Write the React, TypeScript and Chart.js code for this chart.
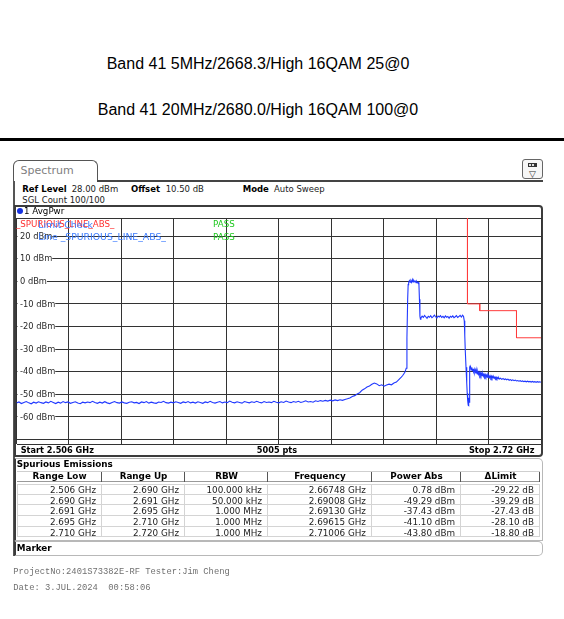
import React, { useEffect, useRef } from "react";
import { Chart, registerables } from "chart.js";
Chart.register(...registerables);

const titleLines = ["Band 41 5MHz/2668.3/High 16QAM 25@0", "Band 41 20MHz/2680.0/High 16QAM 100@0"];

// frequency axis (MHz) and level axis (dBm)
const freqStart = 2506;
const freqStop = 2720;
const refLevel = 28;
const bottomLevel = -72;
const xGridFreqs = [2506, 2527.4, 2548.8, 2570.2, 2591.6, 2613, 2634.4, 2655.8, 2677.2, 2698.6, 2720];
const yGridLevels = [28, 20, 10, 0, -10, -20, -30, -40, -50, -60, -70, -72];
const yTickLabels = ["20 dBm", "10 dBm", "0 dBm", "-10 dBm", "-20 dBm", "-30 dBm", "-40 dBm", "-50 dBm", "-60 dBm"];
const yTickLevels = [20, 10, 0, -10, -20, -30, -40, -50, -60];

// trace 1 AvgPwr: [MHz, dBm]
const tracePoints: [number, number][] = [
  [2506, -53.9], [2507, -53.4], [2508, -54.1], [2509, -53.6], [2510, -53.2], [2511, -53.8], [2512, -54.2], [2513, -53.5],
  [2514, -53.9], [2515, -53.3], [2516, -53.7], [2517, -54.0], [2518, -53.4], [2519, -53.8], [2520, -53.1], [2521, -53.6],
  [2522, -54.1], [2523, -53.5], [2524, -53.9], [2525, -53.2], [2526, -53.7], [2527, -53.4], [2528, -54.0], [2529, -53.6],
  [2530, -53.3], [2531, -53.9], [2532, -54.2], [2533, -53.5], [2534, -53.8], [2535, -53.4], [2536, -53.7], [2537, -53.1],
  [2538, -53.6], [2539, -54.0], [2540, -53.5], [2541, -53.9], [2542, -53.3], [2543, -53.8], [2544, -54.1], [2545, -53.6],
  [2546, -53.2], [2547, -53.7], [2548, -53.9], [2549, -53.4], [2550, -53.8], [2551, -54.0], [2552, -53.5], [2553, -53.3],
  [2554, -53.8], [2555, -53.6], [2556, -54.1], [2557, -53.4], [2558, -53.7], [2559, -53.2], [2560, -53.9], [2561, -53.5],
  [2562, -53.8], [2563, -54.0], [2564, -53.4], [2565, -53.6], [2566, -53.1], [2567, -53.7], [2568, -53.9], [2569, -53.5],
  [2570, -53.8], [2571, -53.3], [2572, -53.6], [2573, -54.0], [2574, -53.4], [2575, -53.7], [2576, -53.2], [2577, -53.8],
  [2578, -53.5], [2579, -53.9], [2580, -53.3], [2581, -53.6], [2582, -54.0], [2583, -53.4], [2584, -53.7], [2585, -53.1],
  [2586, -53.6], [2587, -53.9], [2588, -53.5], [2589, -53.2], [2590, -53.8], [2591, -53.4], [2592, -53.7], [2593, -53.0],
  [2594, -53.5], [2595, -53.8], [2596, -53.3], [2597, -53.6], [2598, -53.9], [2599, -53.2], [2600, -53.5], [2601, -53.8],
  [2602, -53.3], [2603, -53.6], [2604, -53.1], [2605, -53.5], [2606, -53.8], [2607, -53.2], [2608, -53.6], [2609, -53.4],
  [2610, -53.7], [2611, -53.1], [2612, -53.5], [2613, -53.8], [2614, -53.3], [2615, -53.6], [2616, -53.0], [2617, -53.4],
  [2618, -53.7], [2619, -53.2], [2620, -53.5], [2621, -53.1], [2622, -53.6], [2623, -53.3], [2624, -52.9], [2625, -53.4],
  [2626, -53.2], [2627, -53.5], [2628, -52.9], [2629, -53.2], [2630, -52.8], [2631, -53.1], [2632, -52.7], [2633, -53.0],
  [2634, -52.6], [2635, -52.9], [2636, -52.5], [2637, -52.8], [2638, -52.4], [2639, -52.7], [2640, -52.3],
  [2641, -52.0], [2642, -51.6], [2643, -51.0], [2644, -50.6], [2645, -49.9], [2646, -49.3], [2647, -48.2], [2648, -47.6],
  [2649, -46.8], [2650, -46.3], [2651, -45.6], [2652, -45.0], [2653, -45.4], [2654, -46.2], [2655, -45.8], [2656, -46.4],
  [2657, -45.9], [2658, -45.5], [2659, -45.8], [2660, -45.0], [2661, -44.6], [2662, -43.5], [2663, -42.4], [2663.5, -41.8],
  [2664, -41.0], [2664.5, -40.2], [2665, -38.5], [2665.3, -25], [2665.6, -8], [2665.8, -1.5],
  [2666, -0.6], [2666.3, 0.3], [2666.6, -0.4], [2666.9, 0.2], [2667.2, -0.5], [2667.5, 0.78], [2667.8, -0.3], [2668.1, 0.4],
  [2668.4, -0.2], [2668.7, 0.1], [2669.0, -0.6], [2669.3, -0.1], [2669.6, -0.7], [2669.9, -0.4], [2670.2, -1.5], [2670.4, -8],
  [2670.6, -15.5], [2670.8, -16.8],
  [2671, -16.2], [2671.5, -15.4], [2672, -16.0], [2672.5, -15.1], [2673, -15.8], [2673.5, -16.4], [2674, -15.5], [2674.5, -15.9],
  [2675, -15.2], [2675.5, -16.1], [2676, -15.6], [2676.5, -15.0], [2677, -15.7], [2677.5, -16.3], [2678, -15.4], [2678.5, -15.8],
  [2679, -15.2], [2679.5, -16.0], [2680, -15.5], [2680.5, -16.2], [2681, -15.3], [2681.5, -15.9], [2682, -15.6], [2682.5, -16.4],
  [2683, -15.5], [2683.5, -15.9], [2684, -15.3], [2684.5, -16.1], [2685, -15.7], [2685.5, -15.2], [2686, -16.0], [2686.5, -15.6],
  [2687, -15.1], [2687.5, -15.8], [2688, -15.0], [2688.4, -15.6],
  [2688.7, -17.5], [2688.9, -24], [2689.1, -30.5], [2689.4, -38], [2689.7, -45], [2689.9, -49.6], [2690.0, -51.5], [2690.1, -49.5],
  [2690.2, -53], [2690.3, -54.8], [2690.4, -52], [2690.5, -55], [2690.6, -51.5], [2690.7, -53.5], [2690.8, -50.5], [2690.9, -46],
  [2691.0, -38.0], [2691.1, -37.5],
  [2691.25, -37.9], [2691.5, -39.2], [2691.75, -38.1], [2692, -39.6], [2692.25, -38.7], [2692.5, -40.1], [2692.75, -39.0], [2693, -40.4],
  [2693.25, -39.3], [2693.5, -40.6], [2693.75, -39.7], [2694, -41.0], [2694.25, -40.0], [2694.5, -41.2], [2694.75, -40.3], [2695, -41.5],
  [2695.25, -40.5], [2695.5, -41.6], [2695.75, -40.8], [2696, -41.8], [2696.25, -40.9], [2696.5, -42.0], [2696.75, -41.1], [2697, -42.1],
  [2697.25, -41.3], [2697.5, -42.2], [2697.75, -41.5], [2698, -42.4], [2698.25, -41.6], [2698.5, -42.5], [2698.75, -41.8], [2699, -42.6],
  [2699.25, -41.9], [2699.5, -42.7], [2699.75, -42.0], [2700, -42.8], [2700.25, -42.1], [2700.5, -42.8], [2700.75, -42.3], [2701, -42.9],
  [2701.25, -42.4], [2701.5, -43.0], [2701.75, -42.5], [2702, -43.1], [2702.25, -42.6], [2702.5, -43.1], [2702.75, -42.7], [2703, -43.2],
  [2703.5, -42.9], [2704, -43.4], [2704.5, -43.0], [2705, -43.5], [2705.5, -43.2], [2706, -43.6], [2706.5, -43.3], [2707, -43.8],
  [2707.5, -43.5], [2708, -43.9], [2708.5, -43.6], [2709, -44.0], [2709.5, -43.7], [2710, -44.1], [2710.5, -43.9], [2711, -44.2],
  [2711.5, -44.0], [2712, -44.3], [2712.5, -44.1], [2713, -44.4], [2713.5, -44.2], [2714, -44.5], [2714.5, -44.2], [2715, -44.5],
  [2715.5, -44.3], [2716, -44.6], [2716.5, -44.3], [2717, -44.6], [2717.5, -44.4], [2718, -44.7], [2718.5, -44.4], [2719, -44.6],
  [2719.5, -44.5], [2720, -44.7],
];

// _SPURIOUS_LINE_ABS_ limit line
const limitFreq = [2506, 2690, 2690, 2695, 2695, 2710, 2710, 2720];
const limitLevel = [30, 30, -10, -10, -13, -13, -25, -25];

// Spurious emissions table
const tableHeader = ["Range Low", "Range Up", "RBW", "Frequency", "Power Abs", "\u0394Limit"];
const rangeLow = ["2.506 GHz", "2.690 GHz", "2.691 GHz", "2.695 GHz", "2.710 GHz"];
const rangeUp = ["2.690 GHz", "2.691 GHz", "2.695 GHz", "2.710 GHz", "2.720 GHz"];
const rbw = ["100.000 kHz", "50.000 kHz", "1.000 MHz", "1.000 MHz", "1.000 MHz"];
const peakFreq = ["2.66748 GHz", "2.69008 GHz", "2.69130 GHz", "2.69615 GHz", "2.71006 GHz"];
const powerAbs = ["0.78 dBm", "-49.29 dBm", "-37.43 dBm", "-41.10 dBm", "-43.80 dBm"];
const deltaLimit = ["-29.22 dB", "-39.29 dB", "-27.43 dB", "-28.10 dB", "-18.80 dB"];

const RS = '"DejaVu Sans", Verdana, sans-serif';

type TProps = {
  x: number; base: number; fs: number; children: React.ReactNode;
  weight?: number; color?: string; font?: string; asc?: number; right?: boolean; center?: boolean; pre?: boolean;
};
function T({ x, base, fs, children, weight = 400, color = "#000", font = RS, asc = 0.928, right, center, pre }: TProps) {
  const style: React.CSSProperties = {
    position: "absolute",
    top: base - asc * fs,
    fontFamily: font,
    fontSize: fs,
    fontWeight: weight,
    color,
    lineHeight: `${fs * 1.2}px`,
    whiteSpace: pre ? "pre" : "nowrap",
  };
  if (right) {
    style.right = 564 - x;
    style.textAlign = "right";
  } else if (center) {
    style.left = x - 200;
    style.width = 400;
    style.textAlign = "center";
  } else {
    style.left = x;
  }
  return <div style={style}>{children}</div>;
}

const yLabelPlugin = {
  id: "yLabels",
  beforeDatasetsDraw(chart: any) {
    const { ctx, chartArea, scales } = chart;
    ctx.save();
    ctx.font = '8.3px "DejaVu Sans"';
    ctx.textBaseline = "middle";
    yTickLevels.forEach((lv, i) => {
      const y = scales.y.getPixelForValue(lv);
      const text = yTickLabels[i];
      const w = ctx.measureText(text).width;
      const x0 = chartArea.left + 3.5;
      ctx.fillStyle = "#fff";
      ctx.fillRect(chartArea.left + 1, y - 4, x0 + w - chartArea.left - 1, 8);
      ctx.fillStyle = "#2a2a2a";
      ctx.fillText(text, x0, y + 0.5);
    });
    ctx.restore();
  },
};

function SpectrumChart() {
  const ref = useRef<HTMLCanvasElement | null>(null);
  useEffect(() => {
    if (!ref.current) return;
    const chart = new Chart(ref.current, {
      type: "line",
      data: {
        datasets: [
          {
            label: "1 AvgPwr",
            data: tracePoints.map(([f, v]) => ({ x: f, y: v })),
            borderColor: "#2038ff",
            borderWidth: 1.1,
            pointRadius: 0,
            tension: 0,
          },
          {
            label: "_SPURIOUS_LINE_ABS_",
            data: limitFreq.map((f, i) => ({ x: f, y: limitLevel[i] })),
            borderColor: "#ff3c3c",
            borderWidth: 1,
            pointRadius: 0,
            tension: 0,
          },
        ],
      },
      options: {
        animation: false,
        responsive: false,
        maintainAspectRatio: false,
        events: [],
        layout: { padding: { left: 16.5, right: 23, top: 18, bottom: 16 } },
        plugins: { legend: { display: false }, tooltip: { enabled: false } },
        scales: {
          x: {
            type: "linear",
            min: freqStart,
            max: freqStop,
            afterBuildTicks: (s: any) => {
              s.ticks = xGridFreqs.map((v) => ({ value: v }));
            },
            ticks: { display: false },
            grid: { color: "#333333", lineWidth: 1, drawTicks: false },
            border: { display: false },
          },
          y: {
            type: "linear",
            min: bottomLevel,
            max: refLevel,
            afterBuildTicks: (s: any) => {
              s.ticks = yGridLevels.map((v) => ({ value: v }));
            },
            ticks: { display: false },
            grid: { color: "#333333", lineWidth: 1, drawTicks: false },
            border: { display: false },
          },
        },
      },
      plugins: [yLabelPlugin],
    });
    return () => chart.destroy();
  }, []);
  return (
    <canvas
      ref={ref}
      width={564}
      height={260}
      style={{ position: "absolute", left: 0, top: 200, width: 564, height: 260, display: "block" }}
    />
  );
}

const colX = [17, 102, 185, 268, 372, 461, 540];
const rowCols = [rangeLow, rangeUp, rbw, peakFreq, powerAbs, deltaLimit];

export default function App() {
  const rowTop = (i: number) => 484 + i * 10.7;
  return (
    <div style={{ position: "absolute", left: 0, top: 0, width: 564, height: 619, background: "#fff", overflow: "hidden" }}>
      {titleLines.map((t, i) => (
        <div
          key={i}
          style={{
            position: "absolute", left: 0, width: 516, top: i === 0 ? 55.3 : 101.3, textAlign: "center",
            fontFamily: '"Liberation Sans", Arial, sans-serif', fontSize: 16, lineHeight: "18px", color: "#000",
          }}
        >
          {t}
        </div>
      ))}
      <div style={{ position: "absolute", left: 0, top: 138.2, width: 564, height: 2.5, background: "#000" }} />

      {/* outer panel left line */}
      <div style={{ position: "absolute", left: 13, top: 166, width: 1.5, height: 390, background: "#555" }} />
      {/* tab */}
      <div
        style={{
          position: "absolute", left: 13, top: 160, width: 85, height: 21, boxSizing: "border-box",
          border: "1.5px solid #555", borderBottom: "none", borderRadius: "6px 6px 0 0", background: "#fff",
        }}
      />
      <div style={{ position: "absolute", left: 97, top: 180, width: 446, height: 1.5, background: "#444" }} />
      <T x={20.5} base={174.3} fs={11} color="#808080">Spectrum</T>
      {/* icon */}
      <div
        style={{
          position: "absolute", left: 522, top: 159, width: 21, height: 20, boxSizing: "border-box",
          border: "1px solid #666", borderRadius: 3, background: "#f6f6f6",
        }}
      />
      <div style={{ position: "absolute", left: 528, top: 163, width: 9, height: 4, background: "#333" }} />
      <div style={{ position: "absolute", left: 529, top: 164, width: 2, height: 2, background: "#ddd" }} />
      <div style={{ position: "absolute", left: 532, top: 164, width: 2, height: 2, background: "#ddd" }} />
      <T x={532.5} base={177} fs={9} center color="#333">▽</T>

      <T x={22.3} base={191.7} fs={8.5} weight={700}>Ref Level</T>
      <T x={71.7} base={191.7} fs={8.5} color="#222">28.00 dBm</T>
      <T x={131} base={191.7} fs={8.5} weight={700}>Offset</T>
      <T x={165.7} base={191.7} fs={8.5} color="#222">10.50 dB</T>
      <T x={242.7} base={191.7} fs={8.5} weight={700}>Mode</T>
      <T x={274} base={191.7} fs={8.5} color="#222">Auto Sweep</T>
      <T x={22.3} base={203.3} fs={8.5} color="#222">SGL Count 100/100</T>

      {/* plot frame */}
      <div
        style={{
          position: "absolute", left: 14, top: 205, width: 529, height: 252, boxSizing: "border-box",
          border: "2px solid #3c3c3c", borderRadius: "0 4px 4px 0",
        }}
      />
      <SpectrumChart />
      <div style={{ position: "absolute", left: 17, top: 208, width: 6, height: 6, borderRadius: 3, background: "#1530e0" }} />
      <T x={24} base={214} fs={8.7}>1 AvgPwr</T>
      <T x={16} base={227} fs={8.7} color="#ff3030">_SPURIOUS_LINE_ABS_</T>
      <T x={38.3} base={227.3} fs={9.3} color="#3c7cff">Limit Check</T>
      <T x={213} base={227} fs={8.7} color="#1ec81e">PASS</T>
      <T x={38.3} base={240} fs={9.3} color="#3c7cff">Line _SPURIOUS_LINE_ABS_</T>
      <T x={213} base={240} fs={8.7} color="#1ec81e">PASS</T>

      <T x={20.7} base={453.5} fs={8.2} weight={700}>Start 2.506 GHz</T>
      <T x={277} base={453.5} fs={8.2} weight={700} center>5005 pts</T>
      <T x={534.5} base={453.5} fs={8.2} weight={700} right>Stop 2.72 GHz</T>

      {/* spurious emissions panel */}
      <div
        style={{
          position: "absolute", left: 14, top: 457.5, width: 529, height: 83, boxSizing: "border-box",
          border: "1px solid #b8b8b8", borderLeft: "2px solid #3c3c3c", borderRadius: "0 5px 0 0",
        }}
      />
      <T x={16.7} base={466.7} fs={8.8} weight={700}>Spurious Emissions</T>
      {/* header */}
      <div
        style={{
          position: "absolute", left: colX[0], top: 470.5, width: colX[6] - colX[0], height: 11.5, boxSizing: "border-box",
          borderTop: "1px solid #cfcfcf", borderBottom: "1px solid #9a9a9a", background: "#fff",
        }}
      />
      {tableHeader.map((h, c) => (
        <React.Fragment key={h}>
          <T x={(colX[c] + colX[c + 1]) / 2} base={479.3} fs={8.8} weight={700} center>{h}</T>
          <div style={{ position: "absolute", left: colX[c + 1] - 1, top: 471.5, width: 1, height: 10, background: "#555" }} />
        </React.Fragment>
      ))}
      {rangeLow.map((_, r) => (
        <React.Fragment key={r}>
          <div
            style={{
              position: "absolute", left: colX[0], top: rowTop(r), width: colX[6] - colX[0], height: 10.7, boxSizing: "border-box",
              border: "1px solid #d4d4d4", borderTop: r === 0 ? "1px solid #d4d4d4" : "none",
            }}
          />
          {rowCols.map((col, c) => (
            <React.Fragment key={c}>
              {c < 5 && (
                <div style={{ position: "absolute", left: colX[c + 1] - 1, top: rowTop(r), width: 1, height: 10.7, background: "#d4d4d4" }} />
              )}
              <T x={colX[c + 1] - 6} base={rowTop(r) + 9.2} fs={8.8} color="#222" right>{col[r]}</T>
            </React.Fragment>
          ))}
        </React.Fragment>
      ))}

      {/* marker panel */}
      <div
        style={{
          position: "absolute", left: 14, top: 541, width: 529, height: 15, boxSizing: "border-box",
          border: "1px solid #b8b8b8", borderLeft: "2px solid #3c3c3c", borderRadius: "0 5px 5px 0",
        }}
      />
      <T x={16.7} base={550.7} fs={8.8} weight={700}>Marker</T>

      <T x={13.3} base={574} fs={8.8} font='"Liberation Mono", "Courier New", monospace' asc={0.833} color="#707070" pre>
        ProjectNo:2401S73382E-RF Tester:Jim Cheng
      </T>
      <T x={13.3} base={590} fs={8.8} font='"Liberation Mono", "Courier New", monospace' asc={0.833} color="#707070" pre>
        {"Date: 3.JUL.2024  00:58:06"}
      </T>
    </div>
  );
}
